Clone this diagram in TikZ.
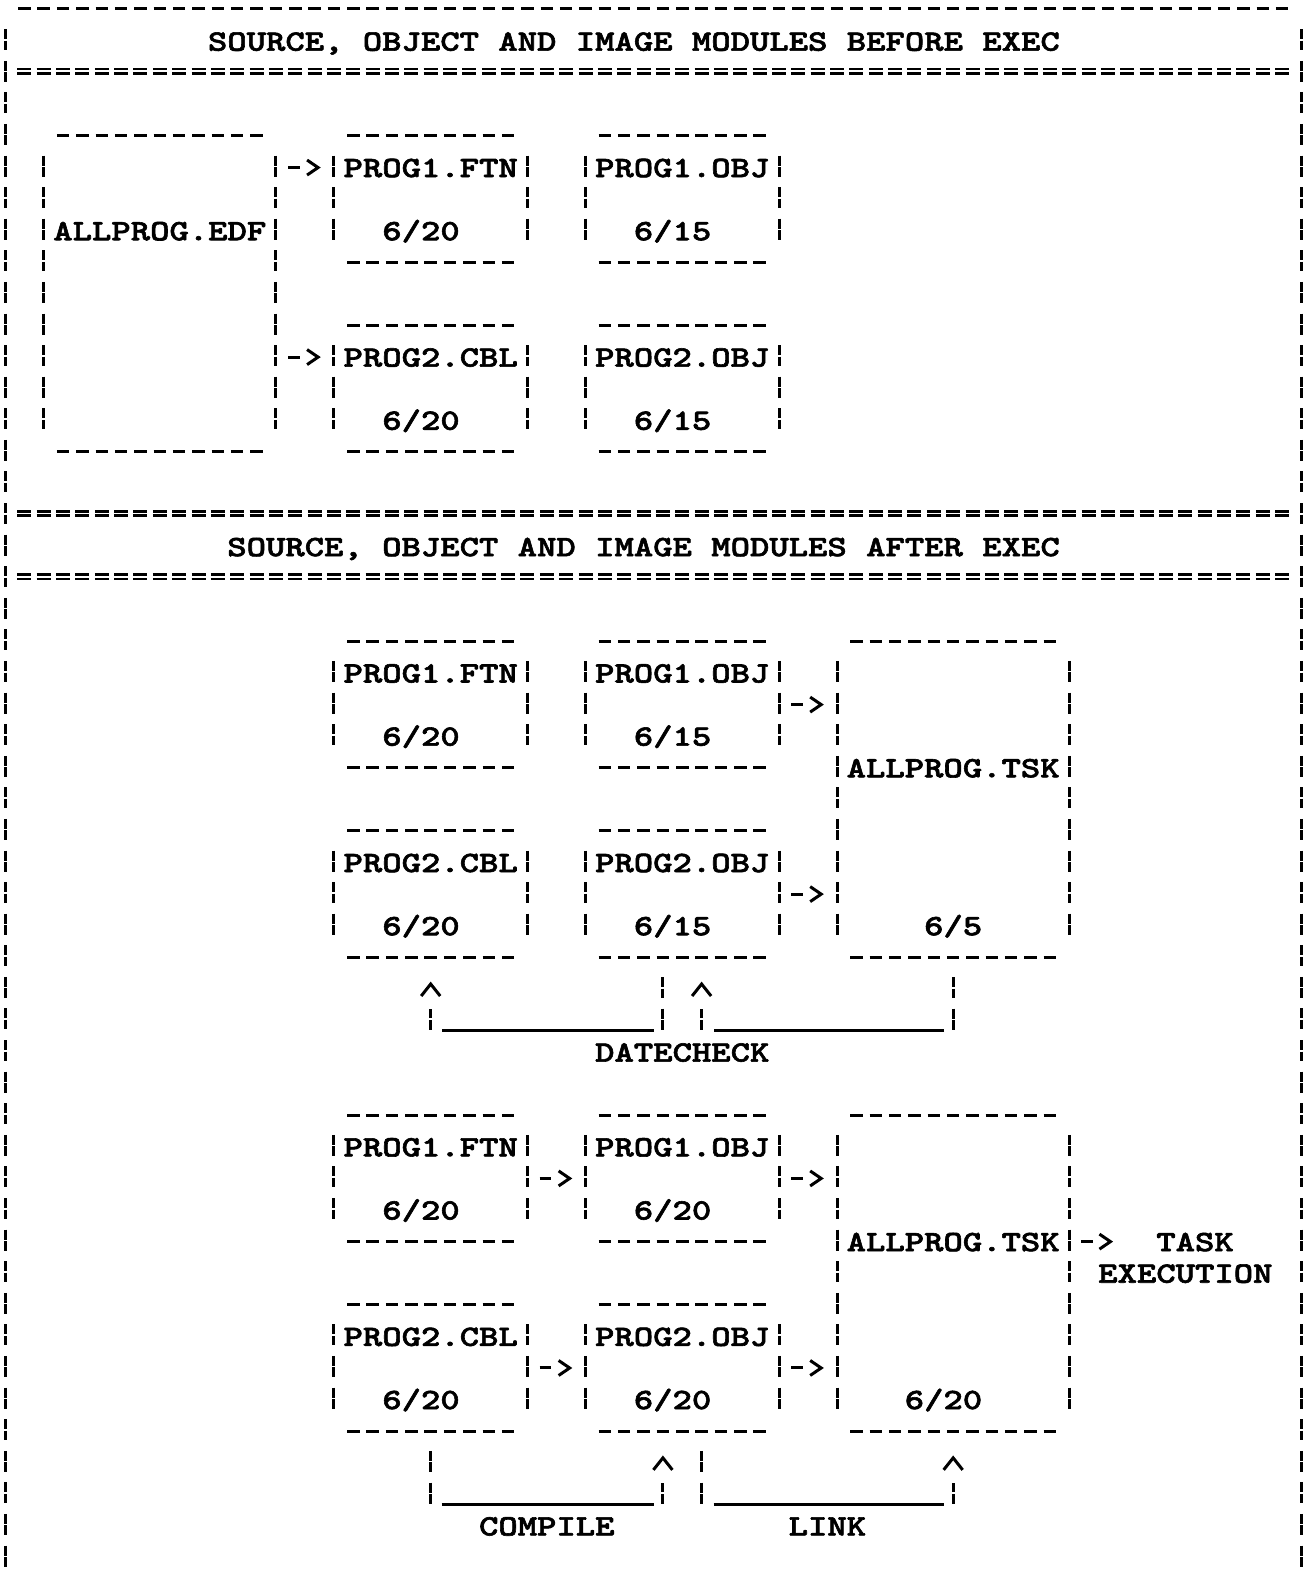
\documentclass[tikz,border=0pt]{standalone}
\usepackage{graphicx}
\usetikzlibrary{arrows.meta,calc}
\font\asc="[lmmonolt10-bold]:extend=1.25;embolden=2" at 29.5pt
\tikzset{
  declare function={cx(\c)=5+19.35*\c; ry(\r)=8.1+31.59*\r;},
  txt/.style={inner sep=0pt, text height=18pt, text depth=0pt,
    font=\asc\frenchspacing},
  area/.style={inner sep=0pt, draw=none},
  hdash/.style={line width=3pt, dash pattern=on 12.5pt off 6.85pt},
  vbar/.style={line width=3pt, dash pattern=on 10pt off 1.5pt on 9.5pt off 10.59pt},
  eqline/.style={line width=2.8pt, dash pattern=on 14pt off 5.35pt},
  uline/.style={line width=2.5pt},
  harr/.style={line width=3pt, dash pattern=on 11.5pt off 80pt, -{Straight Barb[length=11pt,width=15pt]}},
  uarr/.style={line width=3pt, dash pattern=on 10pt off 1.5pt on 9.5pt off 100pt, -{Straight Barb[length=12pt,width=19pt]}},
}
% box drawn as typed characters: name, left col, right col, top row, bottom row
\newcommand{\abox}[5]{%
  \node[area, minimum width={19.35*(#3-#2)}, minimum height={31.59*(#5-#4)}] (#1) at ({cx((#2+#3)/2)},{ry((#4+#5)/2)}) {};
  \draw[hdash] ({cx(#2+1)-6.25},{ry(#4)+1.5}) -- ({cx(#3-1)+6.25},{ry(#4)+1.5});
  \draw[hdash] ({cx(#2+1)-6.25},{ry(#5)+1.5}) -- ({cx(#3-1)+6.25},{ry(#5)+1.5});
  \draw[vbar] ({cx(#2)},{ry(#4+1)-10.5}) -- ({cx(#2)},{ry(#5-1)+10.5});
  \draw[vbar] ({cx(#3)},{ry(#4+1)-10.5}) -- ({cx(#3)},{ry(#5-1)+10.5});
}
\begin{document}
\begin{tikzpicture}[x=1pt,y=-1pt]
\fill[white] (0,0) rectangle (1305,1585);
\useasboundingbox (0,0) rectangle (1305,1585);
% ---- outer frame
\draw[hdash] ({cx(1)-6.25},{ry(0)}) -- ({cx(66)+6.25},{ry(0)});
\draw[vbar] ({cx(0)},{ry(1)-10.5}) -- ({cx(0)},{ry(49)+10.5});
\draw[vbar] ({cx(67)},{ry(1)-10.5}) -- ({cx(67)},{ry(49)+10.5});
\foreach \k in {2,16,18} {
  \draw[eqline] ({cx(1)-7},{ry(\k)-2.3}) -- ({cx(66)+7},{ry(\k)-2.3});
  \draw[eqline] ({cx(1)-7},{ry(\k)+2.3}) -- ({cx(66)+7},{ry(\k)+2.3});
}
\foreach \k in {5,11,22,28,37,39,43} {\coordinate (r\k) at (0,{ry(\k)+1.5});}
% ---- titles
\node[txt] (t1) at ({cx(32.5)},{ry(1)+2}) {SOURCE, OBJECT AND IMAGE MODULES BEFORE EXEC};
\node[txt] (t2) at ({cx(33)},{ry(17)+2}) {SOURCE, OBJECT AND IMAGE MODULES AFTER EXEC};
% ---- section 1
\abox{edf}{2}{14}{4}{14}
\abox{ftnA}{17}{27}{4}{8}
\abox{objA}{30}{40}{4}{8}
\abox{cblA}{17}{27}{10}{14}
\abox{objbA}{30}{40}{10}{14}
\node[txt] (edf-n) at ({cx(8)},{ry(7)+2}) {ALLPROG.EDF};
\node[txt] (ftnA-n) at ({cx(22)},{ry(5)+2}) {PROG1.FTN};
\node[txt] (ftnA-d) at ({cx(21.5)},{ry(7)+2}) {6/20};
\node[txt] (objA-n) at ({cx(35)},{ry(5)+2}) {PROG1.OBJ};
\node[txt] (objA-d) at ({cx(34.5)},{ry(7)+2}) {6/15};
\node[txt] (cblA-n) at ({cx(22)},{ry(11)+2}) {PROG2.CBL};
\node[txt] (cblA-d) at ({cx(21.5)},{ry(13)+2}) {6/20};
\node[txt] (objbA-n) at ({cx(35)},{ry(11)+2}) {PROG2.OBJ};
\node[txt] (objbA-d) at ({cx(34.5)},{ry(13)+2}) {6/15};
\draw[harr] ($(edf.east |- r5)+(12,0)$) -- ($(ftnA.west |- r5)+(-13,0)$);
\draw[harr] ($(edf.east |- r11)+(12,0)$) -- ($(cblA.west |- r11)+(-13,0)$);
% ---- section 2
\abox{ftnB}{17}{27}{20}{24}
\abox{objB}{30}{40}{20}{24}
\abox{cblB}{17}{27}{26}{30}
\abox{objbB}{30}{40}{26}{30}
\abox{tskB}{43}{55}{20}{30}
\node[txt] (ftnB-n) at ({cx(22)},{ry(21)+2}) {PROG1.FTN};
\node[txt] (ftnB-d) at ({cx(21.5)},{ry(23)+2}) {6/20};
\node[txt] (objB-n) at ({cx(35)},{ry(21)+2}) {PROG1.OBJ};
\node[txt] (objB-d) at ({cx(34.5)},{ry(23)+2}) {6/15};
\node[txt] (cblB-n) at ({cx(22)},{ry(27)+2}) {PROG2.CBL};
\node[txt] (cblB-d) at ({cx(21.5)},{ry(29)+2}) {6/20};
\node[txt] (objbB-n) at ({cx(35)},{ry(27)+2}) {PROG2.OBJ};
\node[txt] (objbB-d) at ({cx(34.5)},{ry(29)+2}) {6/15};
\node[txt] (tskB-n) at ({cx(49)},{ry(24)+2}) {ALLPROG.TSK};
\node[txt] (tskB-d) at ({cx(49)},{ry(29)+2}) {6/5};
\draw[harr] ($(objB.east |- r22)+(12,0)$) -- ($(tskB.west |- r22)+(-13,0)$);
\draw[harr] ($(objbB.east |- r28)+(12,0)$) -- ($(tskB.west |- r28)+(-13,0)$);
% datecheck: PROG2.OBJ -> PROG2.CBL
\draw[vbar] ($(objbB.south)+(-19.35,21.09)$) -- ($(objbB.south)+(-19.35,73.68)$);
\draw[uline] ($(objbB.south)+(-28.35,74.68)$) -- ($(cblB.south)+(11,74.68)$);
\draw[uarr] ($(cblB.south)+(0,73.68)$) -- ($(cblB.south)+(0,25.59)$);
% datecheck: ALLPROG.TSK -> PROG2.OBJ
\draw[vbar] ($(tskB.south)+(0,21.09)$) -- ($(tskB.south)+(0,73.68)$);
\draw[uline] ($(tskB.south)+(-9,74.68)$) -- ($(objbB.south)+(31.35,74.68)$);
\draw[uarr] ($(objbB.south)+(19.35,73.68)$) -- ($(objbB.south)+(19.35,25.59)$);
\node[txt] (dc) at ({cx(35)},{ry(33)+2}) {DATECHECK};
% ---- section 3
\abox{ftnC}{17}{27}{35}{39}
\abox{objC}{30}{40}{35}{39}
\abox{cblC}{17}{27}{41}{45}
\abox{objbC}{30}{40}{41}{45}
\abox{tskC}{43}{55}{35}{45}
\node[txt] (ftnC-n) at ({cx(22)},{ry(36)+2}) {PROG1.FTN};
\node[txt] (ftnC-d) at ({cx(21.5)},{ry(38)+2}) {6/20};
\node[txt] (objC-n) at ({cx(35)},{ry(36)+2}) {PROG1.OBJ};
\node[txt] (objC-d) at ({cx(34.5)},{ry(38)+2}) {6/20};
\node[txt] (cblC-n) at ({cx(22)},{ry(42)+2}) {PROG2.CBL};
\node[txt] (cblC-d) at ({cx(21.5)},{ry(44)+2}) {6/20};
\node[txt] (objbC-n) at ({cx(35)},{ry(42)+2}) {PROG2.OBJ};
\node[txt] (objbC-d) at ({cx(34.5)},{ry(44)+2}) {6/20};
\node[txt] (tskC-n) at ({cx(49)},{ry(39)+2}) {ALLPROG.TSK};
\node[txt] (tskC-d) at ({cx(48.5)},{ry(44)+2}) {6/20};
\node[txt] (task) at ({cx(61.5)},{ry(39)+2}) {TASK};
\node[txt] (exec) at ({cx(61)},{ry(40)+2}) {EXECUTION};
\draw[harr] ($(ftnC.east |- r37)+(12,0)$) -- ($(objC.west |- r37)+(-13,0)$);
\draw[harr] ($(cblC.east |- r43)+(12,0)$) -- ($(objbC.west |- r43)+(-13,0)$);
\draw[harr] ($(objC.east |- r37)+(12,0)$) -- ($(tskC.west |- r37)+(-13,0)$);
\draw[harr] ($(objbC.east |- r43)+(12,0)$) -- ($(tskC.west |- r43)+(-13,0)$);
\draw[harr] ($(tskC.east |- r39)+(12,0)$) -- ($(task.west |- r39)+(-43,0)$);
% compile: PROG2.CBL -> PROG2.OBJ
\draw[vbar] ($(cblC.south)+(0,21.09)$) -- ($(cblC.south)+(0,73.68)$);
\draw[uline] ($(cblC.south)+(11,74.68)$) -- ($(objbC.south)+(-28.35,74.68)$);
\draw[uarr] ($(objbC.south)+(-19.35,73.68)$) -- ($(objbC.south)+(-19.35,25.59)$);
% link: PROG2.OBJ -> ALLPROG.TSK
\draw[vbar] ($(objbC.south)+(19.35,21.09)$) -- ($(objbC.south)+(19.35,73.68)$);
\draw[uline] ($(objbC.south)+(31.35,74.68)$) -- ($(tskC.south)+(-9,74.68)$);
\draw[uarr] ($(tskC.south)+(0,73.68)$) -- ($(tskC.south)+(0,25.59)$);
\node[txt] (cmp) at ({cx(28)},{ry(48)+2}) {COMPILE};
\node[txt] (lnk) at ({cx(42.5)},{ry(48)+2}) {LINK};
\end{tikzpicture}
\end{document}
